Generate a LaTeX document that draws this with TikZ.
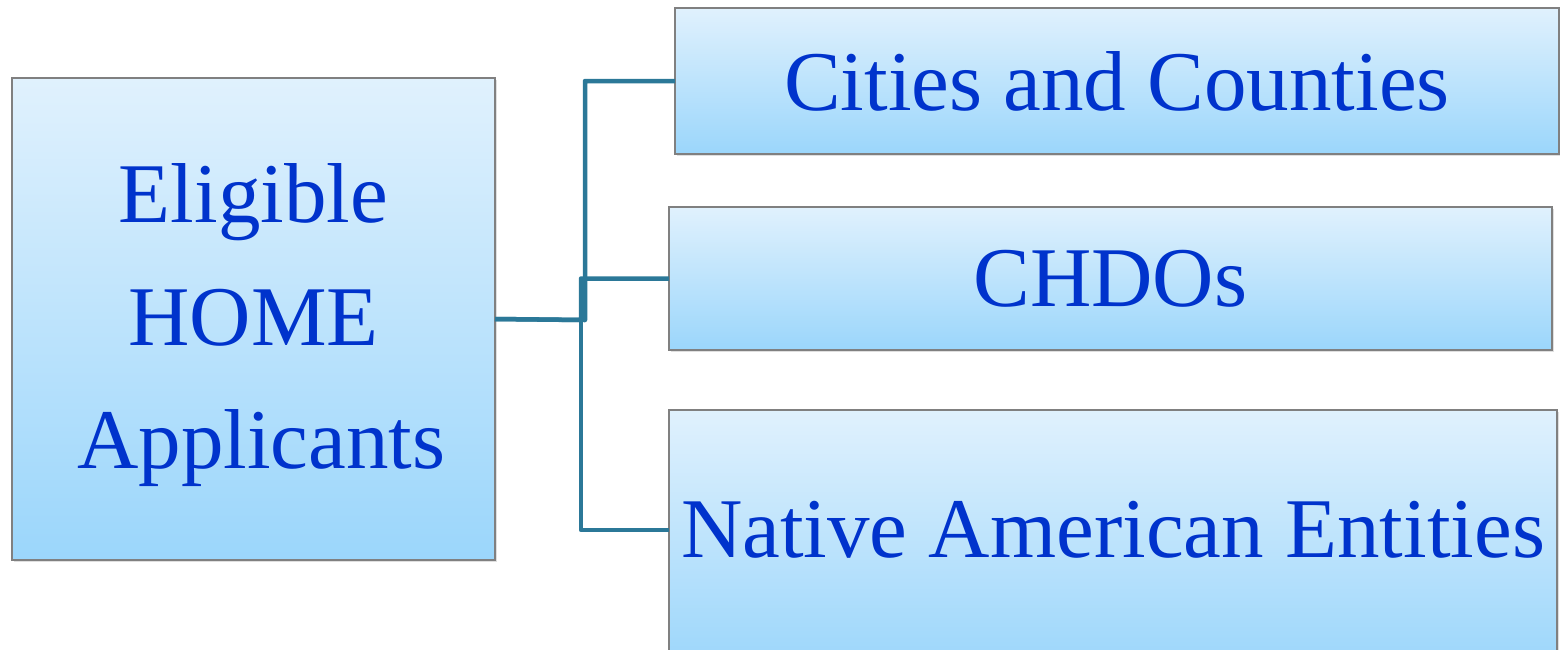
\documentclass[tikz,border=0pt]{standalone}
\usepackage{fontspec}
\setmainfont{Liberation Serif}
\usetikzlibrary{shadows}
\definecolor{boxtop}{HTML}{E0F1FD}
\definecolor{boxbot}{HTML}{9BD6FB}
\definecolor{boxline}{HTML}{808080}
\definecolor{txtblue}{HTML}{0033CC}
\definecolor{linkcol}{HTML}{2B7898}
\tikzset{
  appbox/.style={rectangle, draw=boxline, line width=1.2pt, top color=boxtop, bottom color=boxbot,
    inner sep=0pt, outer sep=0pt, text=txtblue, align=center,
    font=\fontsize{85}{123}\selectfont,
    drop shadow={shadow xshift=2pt, shadow yshift=-2pt, opacity=0.25}},
  link/.style={draw=linkcol, line width=4.5pt, line join=round}
}
\begin{document}
\begin{tikzpicture}[x=1pt,y=-1pt]
\useasboundingbox (0,0) rectangle (1560,649);
\clip (0,0) rectangle (1560,649);
\fill[white] (0,0) rectangle (1560,649);
\node[appbox, minimum width=483pt, minimum height=482pt] (L) at (253.5,319) {\raisebox{97pt}[0pt][0pt]{\parbox[t]{483pt}{\centering Eligible\\HOME\\\hspace*{16pt}Applicants}}};
\node[appbox, minimum width=884pt, minimum height=146pt] (C1) at (1117,81) {Cities and Counties};
\node[appbox, minimum width=883pt, minimum height=143pt] (C2) at (1110.5,278.5) {CHDOs};
\node[appbox, minimum width=888pt, minimum height=260pt] (C3) at (1113,540) {\raisebox{-17pt}[0pt][0pt]{Native American Entities}};
\coordinate (J1) at (585,320);
\coordinate (J2) at (581,320);
\draw[link] (L.east) -- (J1) |- (C1.west);
\draw[link] (L.east) -- (J2) |- (C2.west);
\draw[link] (J2) |- ([yshift=10pt]C3.west);
\end{tikzpicture}
\end{document}
